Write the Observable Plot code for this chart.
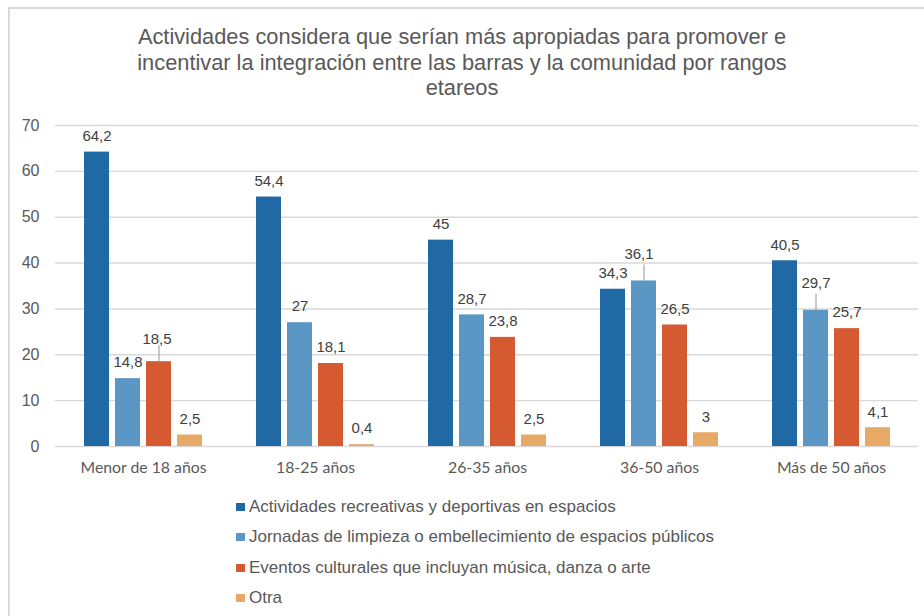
<!DOCTYPE html>
<html>
<head>
<meta charset="utf-8">
<script src="https://cdn.jsdelivr.net/npm/d3@7"></script>
<script src="https://cdn.jsdelivr.net/npm/@observablehq/plot@0.6"></script>
<style>
  html, body { margin: 0; padding: 0; background: #ffffff; }
  body { width: 924px; height: 616px; overflow: hidden; position: relative; }
  #frame { position: absolute; left: 8px; top: 7px; width: 940px; height: 640px; border: 2px solid #d9d9d9; box-sizing: border-box; }
  #title { position: absolute; left: 0; top: 24px; width: 924px; text-align: center;
           font-family: "Liberation Sans", Arial, sans-serif; font-size: 21.8px; line-height: 25.5px; color: #595959; }
  .layer { position: absolute; left: 0; top: 100px; }
  .layer svg { background: transparent !important; overflow: visible; }
  [aria-label^="y-axis"] text { font-family: "Liberation Sans", Arial, sans-serif; font-size: 16px; fill: #595959; }
  [aria-label^="fx-axis"] text { font-family: Lato, "Open Sans", sans-serif; font-size: 15.8px; fill: #595959; }
  #legend { position: absolute; left: 236px; top: 491.5px; font-family: "Liberation Sans", Arial, sans-serif; font-size: 17px; color: #595959; }
  #legend .row { height: 30.5px; display: flex; align-items: center; }
  #legend .sw { width: 9px; height: 8px; margin-right: 4px; flex: none; }
</style>
</head>
<body>
<div id="frame"></div>
<div id="title">Actividades considera que serían más apropiadas para promover e<br>incentivar la integración entre las barras y la comunidad por rangos<br>etareos</div>
<div id="grid" class="layer"></div>
<div id="bars" class="layer"></div>
<div id="legend"></div>
<script>
const categories = ["Menor de 18 años", "18-25 años", "26-35 años", "36-50 años", "Más de 50 años"];
const series = [
  "Actividades recreativas y deportivas en espacios",
  "Jornadas de limpieza o embellecimiento de espacios públicos",
  "Eventos culturales que incluyan música, danza o arte",
  "Otra"
];
const recreativas = [64.2, 54.4, 45, 34.3, 40.5];
const limpieza = [14.8, 27, 28.7, 36.1, 29.7];
const culturales = [18.5, 18.1, 23.8, 26.5, 25.7];
const otra = [2.5, 0.4, 2.5, 3, 4.1];
const yTicks = [0, 10, 20, 30, 40, 50, 60, 70];
const colors = ["#2169a5", "#5b97c5", "#d55a32", "#e7aa66"];

const valuesBySeries = [recreativas, limpieza, culturales, otra];
const data = [];
categories.forEach((cat, ci) => {
  series.forEach((s, si) => {
    data.push({cat, serie: s, ci, si, value: valuesBySeries[si][ci]});
  });
});
const fmt = v => String(v).replace(".", ",");

// labels drawn with leader lines: [category index, series index, dy, dx]
const leaders = [[0, 2, -22, -2], [3, 1, -27, -5], [4, 1, -27, 0]];
const isLeader = d => leaders.some(l => l[0] === d.ci && l[1] === d.si);

const W = 924, H = 385, mL = 55, mR = 6, mT = 25, mB = 39;

const gridPlot = Plot.plot({
  width: W, height: H,
  marginLeft: mL, marginRight: mR, marginTop: mT, marginBottom: mB,
  style: {background: "transparent", color: "#595959"},
  x: {axis: null},
  y: {domain: [0, 70], ticks: yTicks, tickSize: 0, tickPadding: 16, label: null},
  marks: [
    Plot.ruleY(yTicks, {stroke: "#d9d9d9", strokeWidth: 1.4})
  ]
});
document.getElementById("grid").appendChild(gridPlot);

const leaderMarks = leaders.map(([ci, si, dy, dx]) =>
  Plot.text(data, {
    filter: d => d.ci === ci && d.si === si,
    x: "serie", y: "value", text: d => fmt(d.value),
    dy: dy, dx: dx, fontSize: 15, fill: "#404040",
    fontFamily: "Liberation Sans, Arial, sans-serif", textAnchor: "middle", lineAnchor: "middle"
  })
);

const barsPlot = Plot.plot({
  width: W, height: H,
  marginLeft: mL, marginRight: mR, marginTop: mT, marginBottom: mB,
  style: {background: "transparent", color: "#595959"},
  facet: {data, x: "cat", marginLeft: mL, marginRight: mR, marginTop: mT, marginBottom: mB},
  fx: {domain: categories, paddingInner: 0.28, paddingOuter: 0.14, axis: "bottom", tickSize: 0, tickPadding: 15, label: null},
  x: {domain: series, paddingInner: 0.2, paddingOuter: 0.1, axis: null},
  y: {domain: [0, 70], axis: null},
  color: {domain: series, range: colors},
  marks: [
    Plot.barY(data, {x: "serie", y: "value", fill: "serie"}),
    Plot.text(data, {
      filter: d => !isLeader(d),
      x: "serie", y: "value", text: d => fmt(d.value),
      dy: -16, fontSize: 15, fill: "#404040",
      fontFamily: "Liberation Sans, Arial, sans-serif", textAnchor: "middle", lineAnchor: "middle"
    }),
    ...leaderMarks,
    Plot.link(data, {
      filter: d => isLeader(d),
      x1: "serie", x2: "serie",
      y1: "value", y2: d => d.value + 3.6,
      stroke: "#a6a6a6", strokeWidth: 1.2
    })
  ]
});
document.getElementById("bars").appendChild(barsPlot);

const legend = document.getElementById("legend");
series.forEach((s, i) => {
  const row = document.createElement("div");
  row.className = "row";
  const sw = document.createElement("span");
  sw.className = "sw";
  sw.style.background = colors[i];
  const t = document.createElement("span");
  t.textContent = s;
  row.appendChild(sw);
  row.appendChild(t);
  legend.appendChild(row);
});
</script>
</body>
</html>
